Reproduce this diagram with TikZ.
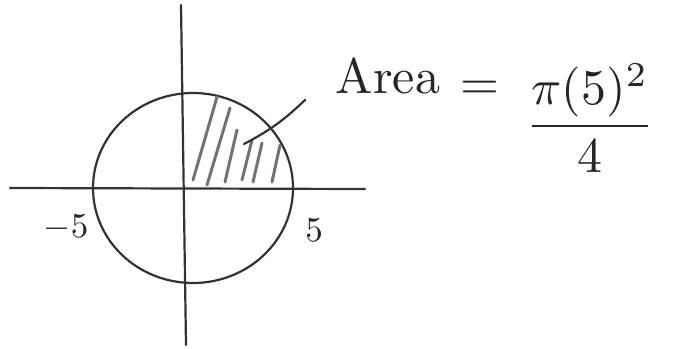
\documentclass[tikz,border=0pt]{standalone}
\usepackage{amsmath}
\begin{document}
\begin{tikzpicture}[x=1pt,y=-1pt,line width=2.2pt,line cap=round]
        \tikzset{pen/.style={draw=black!80},hatch/.style={draw=black!55,line width=3pt},big/.style={scale=#1,text=black!85}}
        \useasboundingbox(0,0)rectangle(676,348);
        % axes and circle
        \draw[pen](10,188)--(365,189);
        \draw[pen](181,5)--(186,345);
        \draw[pen](193,188)ellipse[x radius=100,y radius=95];
        % shaded quarter
        \foreach \a/\b/\c/\d in {217/97/193/180,230/108/207/185,237/130/225/182,252/140/242/180,262/143/253/182,280/145/272/182}
            \draw[hatch](\a,\b)--(\c,\d);
        \coordinate(tail)at(305,100);
        \coordinate(tip)at(244,144);
        \draw[pen](tail)to[bend left=8](tip);
        \node[big=3.5](lft)at(66,228){$-5$};
        \node[big=3.5](rgt)at(314,230){$5$};
        \node[big=5](area)at(388,76){Area};
        \node[big=5](eq)at(480,90){$=$};
        \node[big=5](frac)at(590,118){$\dfrac{\pi(5)^2}{4}$};
    \end{tikzpicture}
\end{document}
